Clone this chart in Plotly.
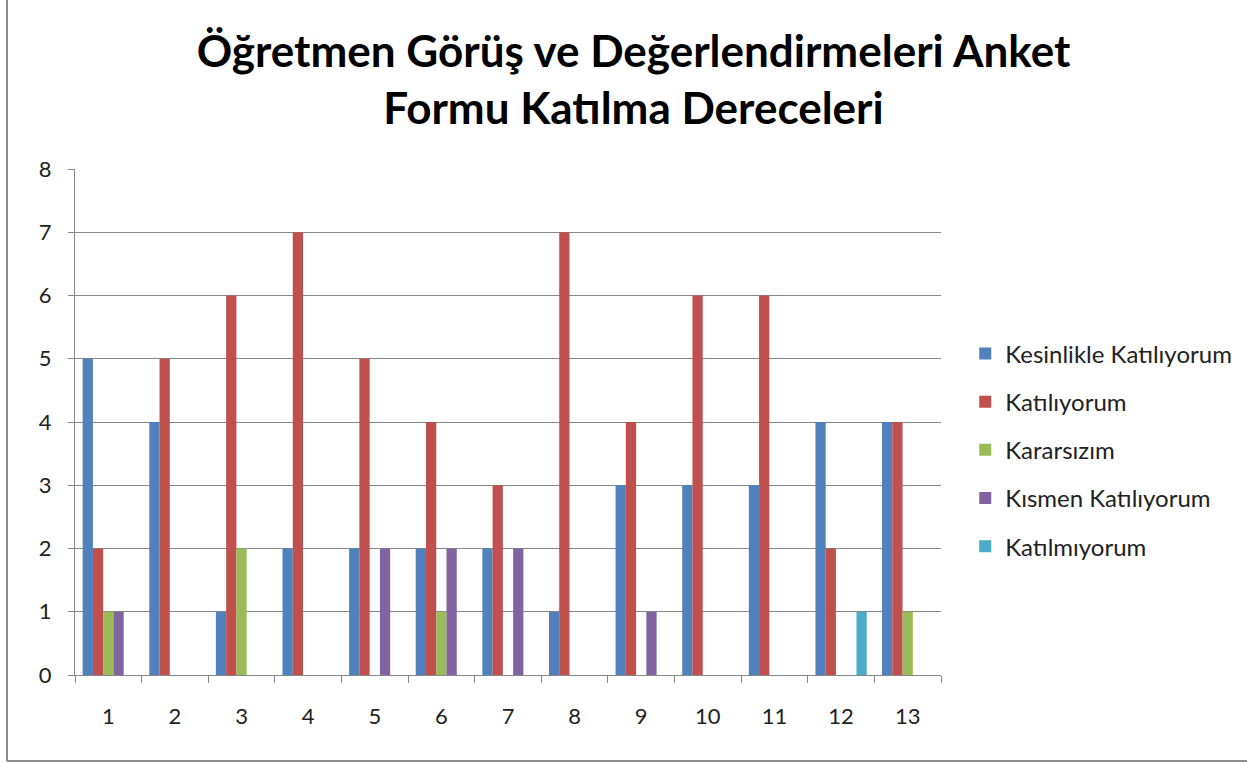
import plotly.graph_objects as go

categories = [str(i) for i in range(1, 14)]
series_names = ["Kesinlikle Katılıyorum", "Katılıyorum", "Kararsızım", "Kısmen Katılıyorum", "Katılmıyorum"]
kesinlikle = [5, 4, 1, 2, 2, 2, 2, 1, 3, 3, 3, 4, 4]
katiliyorum = [2, 5, 6, 7, 5, 4, 3, 7, 4, 6, 6, 2, 4]
kararsizim = [1, 0, 2, 0, 0, 1, 0, 0, 0, 0, 0, 0, 1]
kismen = [1, 0, 0, 0, 2, 2, 2, 0, 1, 0, 0, 0, 0]
katilmiyorum = [0, 0, 0, 0, 0, 0, 0, 0, 0, 0, 0, 1, 0]
colors = ["#4F81BD", "#C0504D", "#9BBB59", "#8064A2", "#4BACC6"]

W, H = 1247, 763
L, R, T, B = 75, 306, 169, 88
pw, ph = W - L - R, H - T - B

fig = go.Figure()
for i, (name, vals) in enumerate(zip(series_names, [kesinlikle, katiliyorum, kararsizim, kismen, katilmiyorum])):
    fig.add_trace(go.Bar(x=categories, y=vals, name=name, marker_color=colors[i],
                         marker_line_width=0, legendgroup=f"g{i}"))

font = "Lato, 'Open Sans', sans-serif"
bx = (7 - L) / pw
by = (T + ph - 761) / ph
fig.update_layout(
    width=W, height=H,
    margin=dict(l=L, r=R, t=T, b=B, autoexpand=False),
    paper_bgcolor="white", plot_bgcolor="white",
    barmode="group", bargap=0.23, bargroupgap=0,
    title=dict(text="<b>Öğretmen Görüş ve Değerlendirmeleri Anket<br>Formu Katılma Dereceleri</b>",
               x=0.508, xanchor="center", y=1 - 67 / H, yanchor="middle",
               font=dict(family=font, size=44, color="black")),
    font=dict(family=font, size=22, color="#222"),
    legend=dict(x=1.028, xanchor="left", y=0.445, yanchor="middle",
                font=dict(family=font, size=24, color="#222"),
                tracegroupgap=14, traceorder="grouped"),
    xaxis=dict(type="category", showgrid=False, showline=True, linecolor="#888", linewidth=1,
               ticks="outside", ticklen=7, tickcolor="#888", tickson="boundaries",
               ticklabelstandoff=22, tickfont=dict(size=22, color="#222")),
    yaxis=dict(range=[0, 8], dtick=1, showgrid=True, gridcolor="#888", gridwidth=1,
               showline=True, linecolor="#888", linewidth=1, ticks="outside", ticklen=6,
               tickcolor="#888", zeroline=False, ticklabelstandoff=12,
               tickfont=dict(size=22, color="#222")),
    shapes=[
        dict(type="line", xref="paper", yref="paper",
             x0=bx, x1=bx, y0=(T + ph + 5) / ph, y1=by,
             line=dict(color="#8c8c8c", width=2)),
        dict(type="line", xref="paper", yref="paper",
             x0=bx, x1=(W - L) / pw, y0=by, y1=by,
             line=dict(color="#8c8c8c", width=2)),
    ],
)

fig.write_html("out.html", config={"displayModeBar": False},
               post_script="document.body.style.margin='0px';document.body.style.overflow='hidden';")
